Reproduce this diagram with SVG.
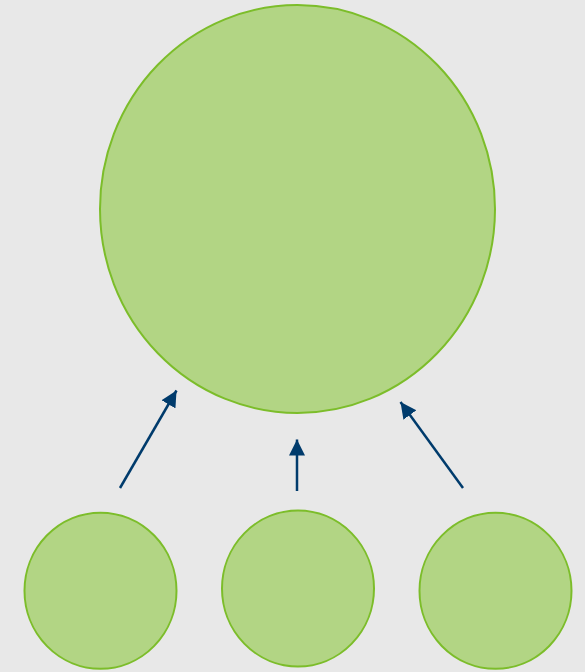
<svg xmlns="http://www.w3.org/2000/svg" width="585" height="672" viewBox="0 0 585 672">
<style>
.node{fill:#b2d584;stroke:#7cbd2a;stroke-width:2}
.conn{stroke:#003b6c;stroke-width:2.5;fill:none}
</style>
<defs>
<marker id="ah" markerUnits="userSpaceOnUse" markerWidth="18" markerHeight="18" viewBox="0 0 18 18" refX="16" refY="9" orient="auto">
<path d="M0,1 L16,9 L0,17 Z" fill="#003b6c"/>
</marker>
</defs>
<rect width="585" height="672" fill="#e8e8e8"/>
<g id="big"><ellipse class="node" cx="297.5" cy="209" rx="197.5" ry="204"/></g>
<g id="left"><ellipse class="node" cx="100.5" cy="590.7" rx="76" ry="78"/></g>
<g id="middle"><ellipse class="node" cx="298" cy="588.5" rx="76" ry="78"/></g>
<g id="right"><ellipse class="node" cx="495.5" cy="590.8" rx="76" ry="78"/></g>
<g id="connectors">
<line class="conn" x1="120" y1="488" x2="176.5" y2="390.5" marker-end="url(#ah)"/>
<line class="conn" x1="297" y1="491" x2="297" y2="439.5" marker-end="url(#ah)"/>
<line class="conn" x1="463" y1="488" x2="400.5" y2="402" marker-end="url(#ah)"/>
</g>
</svg>
